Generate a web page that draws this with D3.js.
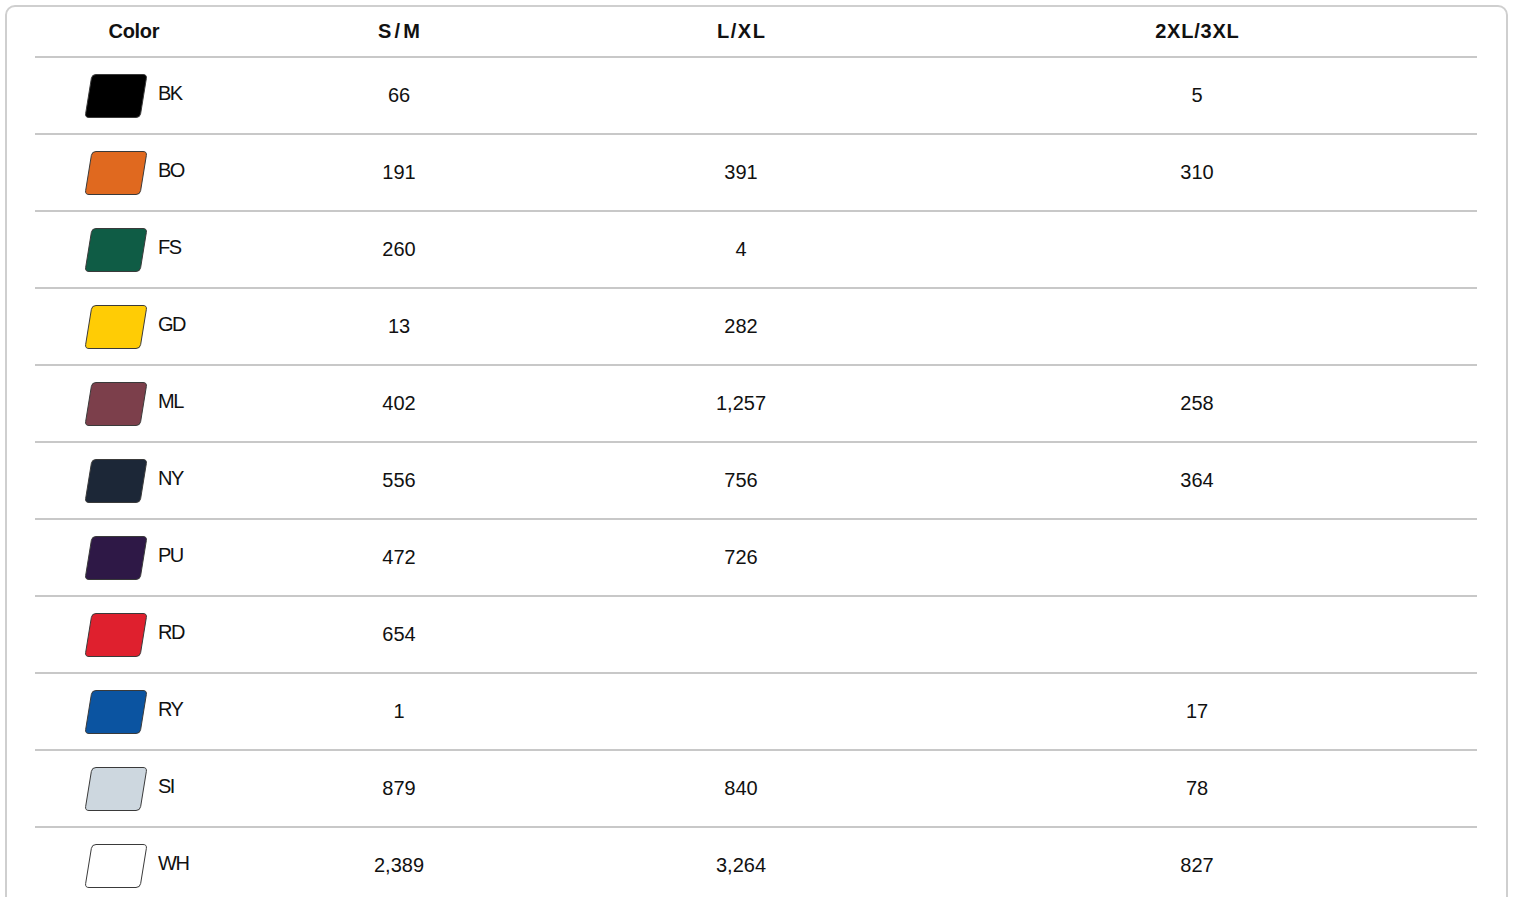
<!DOCTYPE html>
<html>
<head>
<meta charset="utf-8">
<script src="https://cdn.jsdelivr.net/npm/d3@7"></script>
<style>
  body { margin: 0; background: #fff; }
  svg { display: block; }
</style>
</head>
<body>
<script>
// table data
const colorCodes = ['BK', 'BO', 'FS', 'GD', 'ML', 'NY', 'PU', 'RD', 'RY', 'SI', 'WH'];
const swatchColors = ['#000000', '#e0691f', '#0f5c45', '#ffcc05', '#7c3f4b', '#1c2737', '#2e1846', '#df202e', '#0b54a1', '#cdd7df', '#ffffff'];
const columnLabels = ['Color', 'S/M', 'L/XL', '2XL/3XL'];
const smValues = [66, 191, 260, 13, 402, 556, 472, 654, 1, 879, 2389];
const lxlValues = [null, 391, 4, 282, 1257, 756, 726, null, null, 840, 3264];
const xxlValues = [5, 310, null, null, 258, 364, null, null, 17, 78, 827];

const width = 1513;
const height = 897;
const margin = { left: 35, right: 36, top: 57 };
const rowHeight = 77;
const font = 'Liberation Sans, Arial, sans-serif';

const svg = d3.select('body').append('svg').attr('width', width).attr('height', height);

// outer card
svg.append('rect')
  .attr('x', 6).attr('y', 6)
  .attr('width', width - 12).attr('height', height + 20)
  .attr('rx', 9)
  .attr('fill', '#fff')
  .attr('stroke', '#cfcfcf')
  .attr('stroke-width', 2);

// column edges inside the table
const tableW = width - margin.left - margin.right;
const colEdges = [0, 198, 530, 882, tableW];
const colCenter = (i) => margin.left + (colEdges[i] + colEdges[i + 1]) / 2;
const headerSpacing = [-0.3, 3.2, 1.5, 0.8];

const y = d3.scaleBand()
  .domain(colorCodes)
  .range([margin.top, margin.top + rowHeight * colorCodes.length]);

const fmt = d3.format(',');

// header
svg.append('g')
  .selectAll('text')
  .data(columnLabels)
  .join('text')
  .attr('x', (d, i) => colCenter(i) + headerSpacing[i] / 2)
  .attr('y', 33)
  .attr('text-anchor', 'middle')
  .attr('dominant-baseline', 'middle')
  .attr('font-family', font)
  .attr('font-size', '20px')
  .attr('font-weight', 'bold')
  .attr('letter-spacing', (d, i) => headerSpacing[i] + 'px')
  .attr('fill', '#111')
  .text((d) => d);

// row separators
svg.append('g')
  .selectAll('line')
  .data(colorCodes)
  .join('line')
  .attr('x1', margin.left)
  .attr('x2', width - margin.right)
  .attr('y1', (d) => y(d))
  .attr('y2', (d) => y(d))
  .attr('stroke', '#c8c8c8')
  .attr('stroke-width', 2);

// rounded parallelogram
const swatchPath = (x0, y0, w, h, skew, r) => {
  const pts = [[x0 + skew, y0], [x0 + w, y0], [x0 + w - skew, y0 + h], [x0, y0 + h]];
  const p = d3.path();
  const n = pts.length;
  for (let i = 0; i < n; i++) {
    const prev = pts[(i + n - 1) % n], cur = pts[i], next = pts[(i + 1) % n];
    const d1 = Math.hypot(cur[0] - prev[0], cur[1] - prev[1]);
    const d2 = Math.hypot(next[0] - cur[0], next[1] - cur[1]);
    const a = [cur[0] + (prev[0] - cur[0]) * r / d1, cur[1] + (prev[1] - cur[1]) * r / d1];
    const b = [cur[0] + (next[0] - cur[0]) * r / d2, cur[1] + (next[1] - cur[1]) * r / d2];
    if (i === 0) p.moveTo(a[0], a[1]); else p.lineTo(a[0], a[1]);
    p.quadraticCurveTo(cur[0], cur[1], b[0], b[1]);
  }
  p.closePath();
  return p.toString();
};

const rows = svg.append('g')
  .selectAll('g')
  .data(colorCodes)
  .join('g')
  .attr('transform', (d) => `translate(0, ${y(d) + y.bandwidth() / 2})`);

rows.append('path')
  .attr('d', swatchPath(85, -21, 62, 43, 7, 4))
  .attr('fill', (d, i) => swatchColors[i])
  .attr('stroke', '#3a3a3a')
  .attr('stroke-width', 1);

rows.append('text')
  .attr('x', 158)
  .attr('y', -1)
  .attr('dominant-baseline', 'middle')
  .attr('font-family', font)
  .attr('font-size', '20px')
  .attr('letter-spacing', '-1.5px')
  .attr('fill', '#111')
  .text((d) => d);

[smValues, lxlValues, xxlValues].forEach((values, c) => {
  rows.append('text')
    .attr('x', colCenter(c + 1))
    .attr('y', 1)
    .attr('text-anchor', 'middle')
    .attr('dominant-baseline', 'middle')
    .attr('font-family', font)
    .attr('font-size', '20px')
    .attr('fill', '#111')
    .text((d, i) => (values[i] == null ? '' : fmt(values[i])));
});
</script>
</body>
</html>
